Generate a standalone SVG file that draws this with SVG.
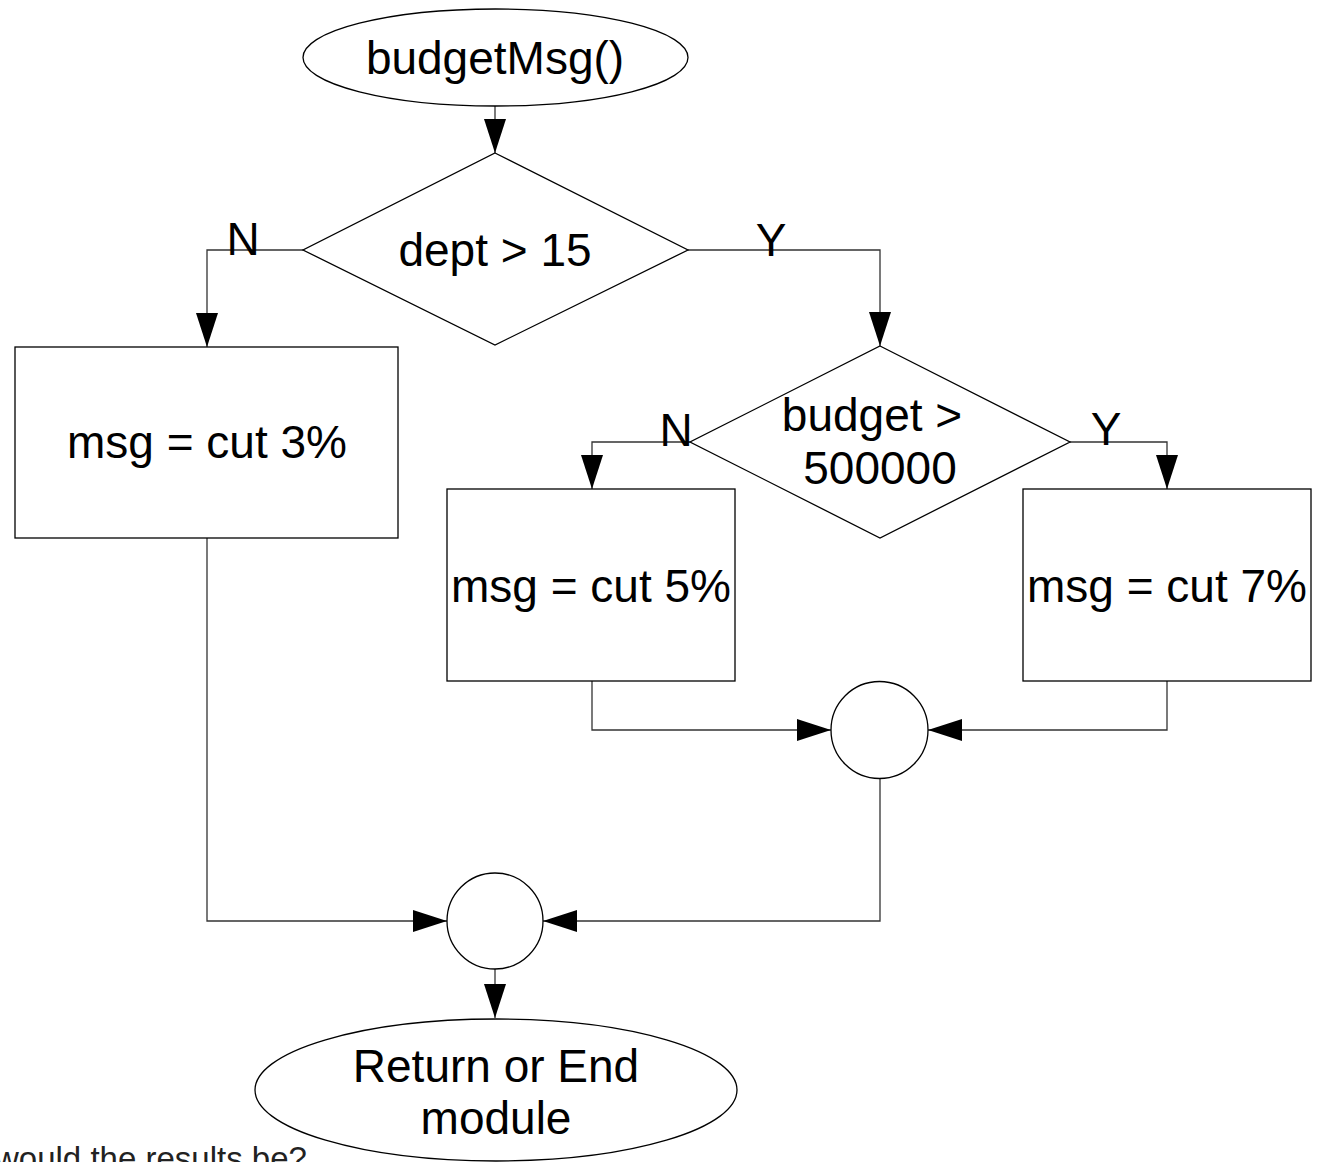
<svg xmlns="http://www.w3.org/2000/svg" width="1327" height="1162" viewBox="0 0 1327 1162">
<style>
.shape{fill:#fff;stroke:#000;stroke-width:1.3}
.conn{fill:none;stroke:#333;stroke-width:1.3}
.t{font-family:"Liberation Sans",Arial,sans-serif;font-size:46px;fill:#000;text-anchor:middle}
.lbl{font-family:"Liberation Sans",Arial,sans-serif;font-size:46px;fill:#000;text-anchor:middle}
</style>
<defs>
<marker id="ah" viewBox="0 0 34 22" refX="34" refY="11" markerWidth="34" markerHeight="22" markerUnits="userSpaceOnUse" orient="auto">
<path d="M0,0 L34,11 L0,22 Z" fill="#000"/>
</marker>
</defs>
<rect width="1327" height="1162" fill="#fff"/>
<g id="connectors">
<path class="conn" d="M495,106 V153" marker-end="url(#ah)"/>
<path class="conn" d="M303,250 H207 V347" marker-end="url(#ah)"/>
<path class="conn" d="M688,250 H880 V346" marker-end="url(#ah)"/>
<path class="conn" d="M690,442 H592 V489" marker-end="url(#ah)"/>
<path class="conn" d="M1070,442 H1167 V489" marker-end="url(#ah)"/>
<path class="conn" d="M592,681 V730 H831" marker-end="url(#ah)"/>
<path class="conn" d="M1167,681 V730 H928" marker-end="url(#ah)"/>
<path class="conn" d="M880,778 V921 H543" marker-end="url(#ah)"/>
<path class="conn" d="M207,538 V921 H447" marker-end="url(#ah)"/>
<path class="conn" d="M495,969 V1018" marker-end="url(#ah)"/>
</g>
<g id="labels">
<text class="lbl" x="243" y="255">N</text>
<text class="lbl" x="771" y="256">Y</text>
<text class="lbl" x="676" y="446">N</text>
<text class="lbl" x="1106" y="445">Y</text>
</g>
<g id="start">
<ellipse class="shape" cx="495.5" cy="57.5" rx="192.5" ry="48.5"/>
<text class="t" x="495" y="74">budgetMsg()</text>
</g>
<g id="dept">
<polygon class="shape" points="495,153 688,250 495,345 303,250"/>
<text class="t" x="495" y="266">dept &gt; 15</text>
</g>
<g id="cut3">
<rect class="shape" x="15" y="347" width="383" height="191"/>
<text class="t" x="207" y="458">msg = cut 3%</text>
</g>
<g id="budget">
<polygon class="shape" points="880,346 1070,442 880,538 690,442"/>
<text class="t" x="872" y="431">budget &gt;</text>
<text class="t" x="880" y="484">500000</text>
</g>
<g id="cut5">
<rect class="shape" x="447" y="489" width="288" height="192"/>
<text class="t" x="591" y="602">msg = cut 5%</text>
</g>
<g id="cut7">
<rect class="shape" x="1023" y="489" width="288" height="192"/>
<text class="t" x="1167" y="602">msg = cut 7%</text>
</g>
<g id="join1">
<circle class="shape" cx="879.5" cy="730" r="48.5"/>
</g>
<g id="join2">
<circle class="shape" cx="495" cy="921" r="48"/>
</g>
<g id="end">
<ellipse class="shape" cx="496" cy="1090" rx="241" ry="71"/>
<text class="t" x="496" y="1082">Return or End</text>
<text class="t" x="496" y="1134">module</text>
</g>
<text x="-5" y="1170" font-family="'Liberation Sans',Arial,sans-serif" font-size="33" fill="#222">would the results be?</text>
</svg>
